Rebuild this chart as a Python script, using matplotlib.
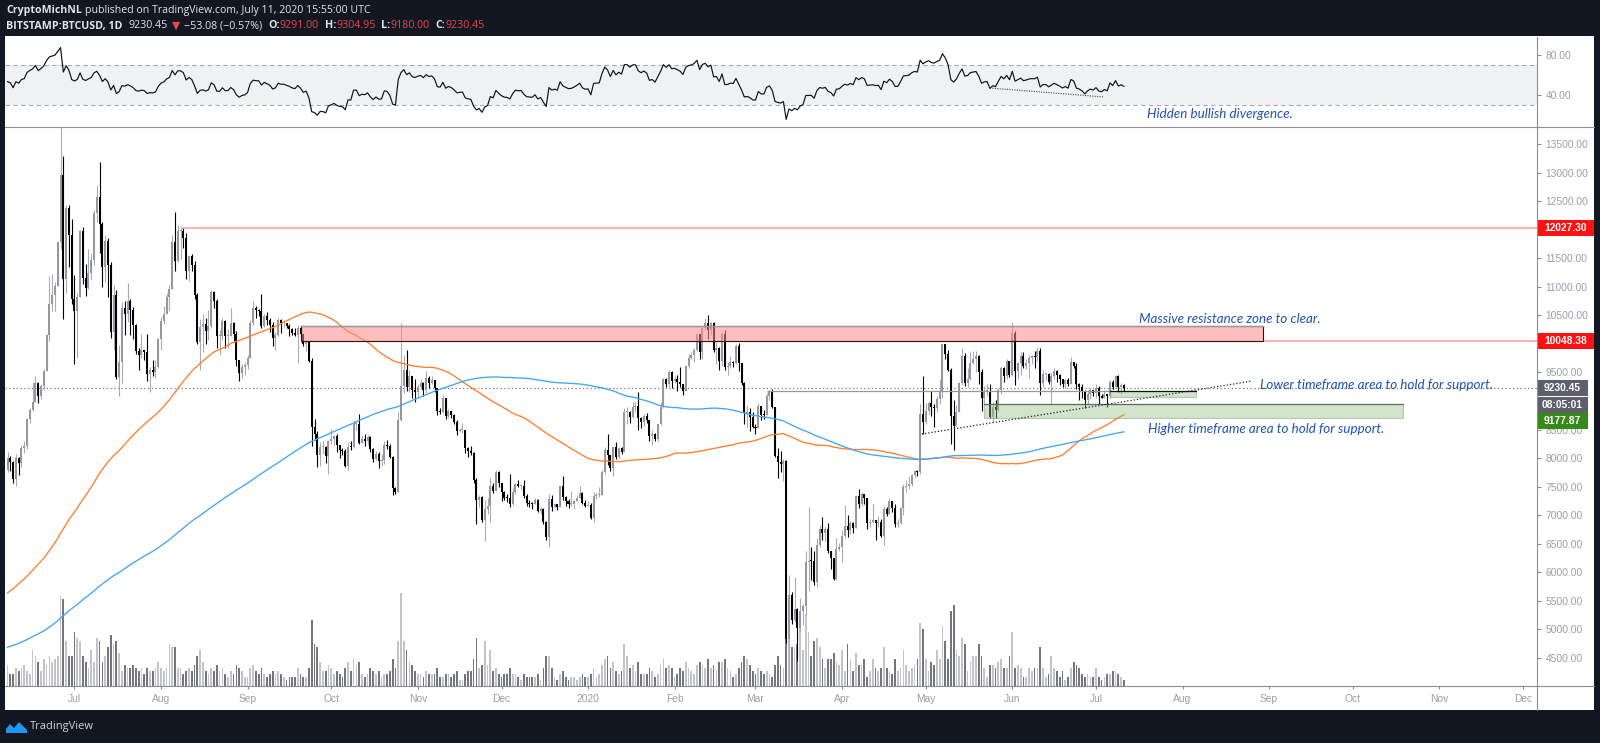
import numpy as np
import pandas as pd
import matplotlib
matplotlib.use("Agg")
import matplotlib.pyplot as plt
import matplotlib.dates as mdates
from matplotlib.patches import Rectangle, Polygon
from matplotlib.lines import Line2D
from matplotlib.transforms import blended_transform_factory

plt.rcParams['font.family'] = ['Liberation Sans', 'DejaVu Sans']
plt.rcParams['axes.unicode_minus'] = True

# ---- daily closes before the visible window (only for the 100/200 SMA and RSI warm-up), from 2018-11-19
pre_close = [
    4870, 4450, 4600, 4370, 4330, 3950, 4010, 3770, 3820, 4260, 4280, 4020,
    4210, 4140, 3840, 3960, 3770, 3510, 3420, 3440, 3590, 3480, 3400, 3520, 3290, 3220, 3200, 3250,
    3550, 3710, 3750, 4130, 3900, 4020, 3990, 4140, 3800, 3830, 3580, 3860, 3800, 3930, 3740,
    3840, 3940, 3840, 3880, 3850, 4040, 3990, 4000, 4010, 3630, 3630, 3590, 3480, 3660, 3590, 3630,
    3660, 3620, 3700, 3550, 3570, 3610, 3580, 3600, 3600, 3600, 3560, 3430, 3400, 3460, 3440,
    3460, 3490, 3410, 3410, 3430, 3400, 3380, 3650, 3640, 3670, 3600, 3620, 3610, 3590, 3610, 3630,
    3670, 3900, 3910, 3960, 3920, 3950, 4120, 3750, 3820, 3800, 3810, 3820,
    3830, 3840, 3810, 3720, 3860, 3870, 3880, 3860, 3930, 3920, 3870, 3890, 3880, 3890, 3920, 4020,
    3990, 3990, 4020, 4040, 3980, 3990, 4000, 3990, 3920, 3940, 4090, 4080, 4110, 4110, 4110,
    4140, 4860, 4970, 4900, 5040, 5060, 5200, 5290, 5170, 5330, 5060, 5070, 5070, 5140, 5030, 5200,
    5240, 5280, 5270, 5310, 5280, 5400, 5530, 5430, 5180, 5250, 5270, 5260, 5210, 5320,
    5380, 5490, 5750, 5830, 5750, 5690, 5800, 5960, 6170, 6350, 7000, 6880, 7810, 7990, 8190, 7880,
    7350, 7260, 8190, 7980, 7980, 7630, 7880, 7990, 8050, 8670, 8810, 8720, 8660, 8270, 8550,
    8560, 8740, 8210, 7690, 7780, 7810,
]

# ---- visible window: BITSTAMP:BTCUSD daily, 2019-06-07 .. 2020-07-11
first_open = 7800
close = [
    # Jun 2019 (7-30)
    8000, 7930, 7630, 8010, 7920, 8170, 8220, 8690, 8850, 8990, 9320, 9080, 9270, 9530, 10150, 10700,
    10850, 11010, 11780, 12960, 11140, 12380, 11910, 10790,
    # Jul
    10580, 10830, 11980, 11150, 10980, 11240, 11470, 12290, 12570, 12100, 11350, 11800, 11380, 10200,
    10850, 9420, 9690, 10620, 10530, 10760, 10590, 10330, 9880, 9800, 9900, 9850, 9470, 9540, 9510, 9590, 10080,
    # Aug
    10400, 10520, 10820, 10970, 11790, 11460, 11980, 11980, 11850, 11280, 11540, 11390, 10860, 10040,
    10300, 10350, 10220, 10320, 10910, 10750, 10130, 10130, 10400, 10130, 10140, 10360, 10180, 9720, 9490, 9590, 9630,
    # Sep
    9760, 10370, 10620, 10590, 10580, 10320, 10490, 10410, 10330, 10100, 10160, 10410, 10360, 10360,
    10310, 10260, 10190, 10160, 10280, 10170, 9990, 10030, 9700, 8540, 8430, 8060, 8200, 8200, 8040, 8300,
    # Oct
    8340, 8390, 8230, 8150, 8130, 7860, 8200, 8190, 8590, 8590, 8270, 8330, 8300, 8370, 8160, 7990,
    8080, 7950, 7960, 8230, 8210, 8020, 7470, 7410, 8660, 9260, 9550, 9250, 9430, 9200, 9150,
    # Nov
    9250, 9310, 9200, 9410, 9320, 9360, 9220, 8820, 8800, 9050, 8730, 8820, 8760, 8640, 8470, 8490,
    8500, 8180, 8120, 8090, 7620, 7270, 7320, 6920, 7110, 7160, 7510, 7420, 7750, 7560,
    # Dec
    7410, 7310, 7300, 7200, 7400, 7540, 7510, 7520, 7340, 7220, 7200, 7190, 7260, 7070, 7110, 6880,
    6620, 7280, 7150, 7190, 7140, 7510, 7320, 7250, 7190, 7200, 7250, 7310, 7390, 7220, 7170,
    # Jan 2020
    7180, 6950, 7340, 7350, 7360, 7760, 8150, 8050, 7820, 8190, 8020, 8180, 8110, 8810, 8810, 8720,
    8900, 8910, 8700, 8630, 8730, 8660, 8390, 8430, 8330, 8590, 8900, 9390, 9290, 9500, 9350,
    # Feb
    9390, 9340, 9290, 9180, 9620, 9750, 9800, 9900, 10170, 9860, 10270, 10360, 10240, 10370, 9900,
    9930, 9700, 10180, 9600, 9610, 9690, 9670, 9970, 9660, 9310, 8790, 8810, 8720, 8540,
    # Mar
    8530, 8920, 8760, 8750, 9080, 9150, 8900, 8040, 7940, 7890, 7950, 4830, 5600, 5170, 5360, 5030,
    5330, 5410, 6180, 6200, 6190, 5830, 6480, 6760, 6690, 6760, 6370, 6250, 5880, 6410, 6440,
    # Apr
    6640, 6810, 6740, 6870, 6780, 7330, 7200, 7370, 7300, 6870, 6890, 6910, 6860, 6880, 6630, 7110,
    7030, 7250, 7130, 6850, 6860, 7130, 7490, 7510, 7540, 7700, 7780, 7760, 8780, 8630,
    # May
    8830, 8970, 8900, 8880, 9030, 9150, 9990, 9820, 9540, 8730, 8570, 8810, 9310, 9790, 9320, 9380,
    9670, 9730, 9780, 9510, 9060, 9170, 9180, 8720, 8900, 8840, 9200, 9570, 9430, 9700, 9450,
    # Jun
    10190, 9520, 9660, 9790, 9620, 9670, 9750, 9780, 9770, 9880, 9320, 9470, 9470, 9340, 9430, 9530,
    9460, 9390, 9300, 9360, 9290, 9680, 9620, 9290, 9250, 9160, 9010, 9120, 9190, 9140,
    # Jul (1-11)
    9230, 9090, 9060, 9130, 9080, 9340, 9250, 9430, 9240, 9284, 9230.45,
]
high = [
    8100, 8030, 7950, 8080, 8020, 8230, 8300, 8700, 8880, 9330, 9440, 9330, 9300, 9560, 10180, 11190,
    11230, 11090, 11780, 13800, 13290, 12440, 12430, 12180,
    11200, 10890, 12000, 12050, 11400, 11660, 11590, 12340, 12780, 13180, 12130, 11900, 11850, 11440,
    11040, 10940, 9980, 10740, 10750, 11060, 10790, 10650, 10340, 9920, 10170, 9900, 10180, 9600, 9710, 9720, 10110,
    10470, 10660, 10900, 11040, 11900, 12310, 12090, 12060, 12030, 11940, 11560, 11580, 11450, 10900,
    10440, 10520, 10460, 10590, 10950, 10920, 10790, 10250, 10450, 10420, 10260, 10630, 10390, 10230, 9720, 9640, 9680,
    9810, 10420, 10760, 10660, 10610, 10880, 10530, 10550, 10460, 10380, 10200, 10450, 10440, 10410,
    10370, 10340, 10270, 10280, 10330, 10240, 10180, 10060, 10030, 9750, 8680, 8480, 8280, 8300, 8220, 8320,
    8510, 8400, 8420, 8230, 8170, 8160, 8290, 8300, 8660, 8630, 8770, 8410, 8420, 8400, 8390, 8170,
    8120, 8100, 8080, 8300, 8320, 8250, 8040, 7500, 8800, 10370, 9800, 9900, 9550, 9430, 9390,
    9290, 9390, 9340, 9520, 9440, 9440, 9370, 9230, 8880, 9100, 9060, 8860, 8830, 8780, 8670, 8530,
    8610, 8500, 8190, 8210, 8110, 7660, 7350, 7340, 7260, 7310, 7660, 7560, 7800, 7780,
    7560, 7420, 7370, 7730, 7490, 7560, 7620, 7550, 7610, 7380, 7260, 7230, 7300, 7280, 7140, 7120,
    6900, 7370, 7360, 7220, 7190, 7520, 7680, 7340, 7280, 7430, 7270, 7360, 7520, 7410, 7270,
    7250, 7210, 7410, 7390, 7490, 7790, 8200, 8420, 8060, 8200, 8280, 8190, 8190, 8880, 8900, 8830,
    8980, 8990, 9160, 8720, 8770, 8790, 8670, 8490, 8440, 8600, 8980, 9400, 9410, 9550, 9520,
    9440, 9460, 9590, 9300, 9630, 9830, 9850, 9930, 10170, 10180, 10300, 10450, 10500, 10390, 10380,
    10040, 9950, 10200, 10250, 9680, 9780, 9700, 9990, 10010, 9670, 9330, 8930, 8880, 8800,
    8600, 8960, 8920, 8840, 9140, 9190, 9210, 8900, 8170, 8130, 7980, 7960, 5950, 5650, 5920, 5370,
    5550, 5440, 6380, 7150, 6440, 6380, 6600, 6830, 6970, 6790, 6860, 6270, 6250, 6600, 6520,
    6740, 7180, 7000, 6900, 6880, 7360, 7460, 7400, 7380, 7310, 6940, 7200, 6910, 6990, 6930, 7170,
    7140, 7300, 7250, 7200, 6940, 7150, 7550, 7610, 7690, 7720, 7800, 7790, 8950, 9440,
    8960, 9000, 9180, 8950, 9080, 9380, 10000, 9990, 9900, 9570, 9020, 8930, 9330, 9930, 9840, 9580,
    9850, 9880, 9880, 9810, 9560, 9260, 9300, 9300, 8980, 9010, 9220, 9610, 9600, 9730, 9700,
    10390, 10230, 9690, 9850, 9860, 9730, 9800, 9800, 9880, 9950, 9930, 9550, 9490, 9490, 9490, 9570,
    9550, 9480, 9390, 9380, 9410, 9770, 9680, 9660, 9320, 9300, 9190, 9190, 9220, 9200,
    9300, 9270, 9120, 9200, 9130, 9370, 9360, 9460, 9450, 9310, 9304.95,
]
low = [
    7760, 7780, 7560, 7510, 7700, 7840, 8090, 8160, 8620, 8830, 8990, 8970, 9030, 9190, 9520, 10050,
    10580, 10570, 11010, 11670, 10440, 10890, 11350, 10700,
    9650, 9750, 10830, 11050, 10840, 10960, 11120, 11380, 12140, 11600, 11000, 11090, 10830, 10100,
    9900, 9380, 9080, 9310, 10160, 10390, 10150, 10080, 9830, 9540, 9760, 9710, 9350, 9160, 9440, 9400, 9570,
    9900, 10350, 10520, 10580, 10980, 11270, 11430, 11480, 11680, 11140, 11110, 11270, 10780, 9990,
    9550, 9860, 9990, 10070, 10280, 10630, 9930, 9800, 10060, 9930, 9930, 10130, 10050, 9610, 9350, 9410, 9450,
    9560, 9760, 10330, 10460, 10480, 10270, 10300, 10330, 10200, 9960, 9900, 10130, 10190, 10290,
    10270, 10140, 10150, 10140, 9660, 10120, 9960, 9880, 9680, 8220, 8310, 7850, 7860, 8080, 7920, 7720,
    8250, 8230, 8100, 8000, 8060, 7840, 7800, 8140, 8170, 8500, 8250, 8270, 8220, 8230, 8100, 7930,
    7970, 7820, 7870, 7890, 8160, 8000, 7360, 7370, 7400, 8650, 9140, 9180, 9150, 9050, 8990,
    9050, 9210, 9080, 9140, 9220, 9300, 9160, 8750, 8770, 8790, 8680, 8700, 8700, 8600, 8410, 8450,
    8440, 8090, 8020, 8050, 7560, 6850, 7140, 6890, 6550, 7030, 6880, 7390, 7430, 7500,
    7250, 7260, 7240, 7150, 7180, 7380, 7500, 7450, 7300, 7160, 7140, 7110, 7190, 7050, 7030, 6840,
    6560, 6440, 7070, 7120, 7100, 7140, 7270, 7160, 7130, 7170, 7110, 7260, 7300, 7190, 7140,
    7170, 6930, 6880, 7280, 7320, 7350, 7730, 7880, 7770, 7680, 7990, 7980, 8070, 8100, 8600, 8620,
    8710, 8800, 8500, 8520, 8570, 8620, 8300, 8230, 8300, 8300, 8580, 8870, 9240, 9230, 9230,
    9310, 9170, 9240, 9110, 9170, 9580, 9730, 9690, 9880, 9740, 9740, 10250, 10090, 10160, 9860,
    9650, 9550, 9620, 9540, 9460, 9570, 9590, 9650, 9530, 9280, 8600, 8550, 8470, 8530,
    8430, 8530, 8660, 8680, 8750, 9020, 8880, 8020, 7650, 7750, 7600, 4770, 3850, 5090, 5130, 4450,
    4960, 5080, 5260, 5670, 5870, 5780, 5740, 6450, 6560, 6540, 6340, 6060, 5860, 5870, 6370,
    6180, 6600, 6620, 6680, 6690, 6780, 7120, 7160, 7200, 6760, 6790, 6860, 6560, 6800, 6620, 6480,
    6990, 7020, 7060, 6790, 6790, 6850, 7010, 7400, 7460, 7510, 7650, 7680, 7730, 8430,
    8600, 8770, 8730, 8540, 8800, 8950, 9050, 9740, 9530, 8250, 8140, 8570, 8800, 9280, 9260, 9240,
    9360, 9640, 9500, 9300, 8820, 8950, 9080, 8700, 8640, 8700, 8830, 9130, 9330, 9380, 9420,
    9430, 9280, 9380, 9450, 9580, 9560, 9400, 9640, 9570, 9700, 9110, 9240, 9360, 9300, 8940, 9380,
    9330, 9280, 9250, 9230, 9270, 9290, 9580, 9210, 9020, 9050, 8880, 8950, 9030, 9080,
    9050, 8940, 9050, 9050, 8900, 9060, 9210, 9230, 9160, 9120, 9180,
]
# volume in thousand BTC
volume = [
    7, 4, 4, 6, 5, 6, 7, 5, 4, 12, 10, 8, 5, 9, 7, 10, 8, 9, 10, 30, 29, 15, 10, 10,
    18, 16, 15, 10, 8, 6, 12, 8, 16, 15, 8, 10, 13, 17, 14, 15, 11, 5, 7, 6, 6, 7, 6, 5, 6, 4, 6, 5, 5, 6, 8,
    6, 5, 6, 14, 13, 13, 6, 6, 4, 5, 6, 5, 7, 10, 12, 8, 5, 4, 6, 5, 7, 5, 6, 4, 3, 5, 4, 7, 6, 5, 3,
    3, 6, 7, 5, 4, 6, 4, 3, 4, 5, 4, 5, 4, 3, 2, 3, 3, 3, 6, 4, 3, 3, 6, 22, 14, 13, 8, 5, 5, 7,
    6, 4, 5, 4, 3, 6, 8, 5, 9, 7, 8, 4, 3, 4, 6, 5, 4, 5, 3, 4, 4, 5, 9, 6, 15, 31, 15, 12, 8, 7, 5,
    4, 4, 3, 5, 4, 4, 4, 6, 3, 3, 4, 4, 3, 4, 5, 2, 2, 4, 5, 5, 9, 16, 6, 7, 15, 7, 12, 5, 6, 4,
    3, 4, 4, 6, 4, 4, 3, 2, 4, 3, 3, 3, 3, 4, 2, 6, 10, 10, 6, 3, 2, 4, 5, 3, 2, 3, 3, 2, 3, 4, 3,
    3, 4, 6, 3, 4, 7, 9, 10, 6, 8, 5, 4, 5, 14, 10, 6, 7, 5, 8, 4, 4, 4, 6, 5, 3, 4, 7, 9, 6, 7, 6,
    3, 4, 6, 5, 8, 6, 5, 4, 7, 8, 7, 6, 9, 6, 7, 5, 8, 8, 9, 6, 5, 3, 4, 6, 8, 10, 9, 7, 5,
    4, 6, 5, 4, 5, 4, 3, 7, 10, 7, 6, 24, 26, 13, 13, 14, 20, 12, 24, 18, 10, 15, 16, 13, 9, 6, 9, 9, 11, 8, 7,
    12, 5, 14, 9, 5, 11, 7, 7, 9, 3, 5, 9, 6, 5, 6, 13, 6, 5, 4, 9, 5, 6, 12, 7, 5, 6, 7, 9, 21, 19,
    9, 5, 8, 7, 12, 9, 20, 15, 9, 25, 27, 12, 10, 16, 14, 5, 8, 10, 10, 14, 10, 6, 3, 7, 7, 6, 8, 9, 6, 6, 10,
    18, 6, 7, 6, 3, 3, 6, 5, 6, 6, 13, 6, 3, 4, 10, 6, 5, 3, 5, 2, 3, 6, 8, 7, 6, 4, 3, 4, 3, 3,
    6, 3, 2, 3, 4, 4, 5, 5, 4, 3, 2,
]

month_starts = ['2019-07-01', '2019-08-01', '2019-09-01', '2019-10-01', '2019-11-01', '2019-12-01',
                '2020-01-01', '2020-02-01', '2020-03-01', '2020-04-01', '2020-05-01', '2020-06-01',
                '2020-07-01', '2020-08-01', '2020-09-01', '2020-10-01', '2020-11-01', '2020-12-01']
month_labels = ['Jul', 'Aug', 'Sep', 'Oct', 'Nov', 'Dec', '2020', 'Feb', 'Mar', 'Apr', 'May', 'Jun',
                'Jul', 'Aug', 'Sep', 'Oct', 'Nov', 'Dec']
price_ticks = [13500, 13000, 12500, 11500, 11000, 10500, 9500, 8500, 8000, 7500, 7000,
               6500, 6000, 5500, 5000, 4500]
rsi_ticks = [80, 40]

# ---------------------------------------------------------------- layout
W, H = 1600, 743
BG = '#131722'
AXC = '#8a8d95'
LBL = '#9b9ea6'
fig = plt.figure(figsize=(16, 7.43), dpi=100, facecolor=BG)


def fx(px):
    return px / W


def fy(py):
    return 1 - py / H


fig.add_artist(Rectangle((fx(5), fy(710)), (1594 - 5) / W, (710 - 36) / H,
                         transform=fig.transFigure, facecolor='white', edgecolor='none', zorder=-10))

ax_rsi = fig.add_axes([fx(5), fy(127), 1532 / W, 89 / H])
ax_vol = fig.add_axes([fx(5), fy(686), 1532 / W, 559 / H])
ax = fig.add_axes([fx(5), fy(686), 1532 / W, 559 / H])
ax_vol.set_zorder(1)
ax.set_zorder(2)
ax_rsi.set_zorder(2)
for a in (ax, ax_vol, ax_rsi):
    a.patch.set_visible(False)
    for s in a.spines.values():
        s.set_visible(False)

# ---------------------------------------------------------------- data prep
dates = pd.date_range('2019-06-07', periods=len(close), freq='D')
x = mdates.date2num(dates)
c = np.array(close, float)
o = np.concatenate([[first_open], c[:-1]])
h = np.maximum(np.array(high, float), np.maximum(o, c))
l = np.minimum(np.array(low, float), np.minimum(o, c))
up = c >= o

full = pd.Series(np.concatenate([np.array(pre_close, float), c]))
n = len(c)
ma100 = full.rolling(100).mean().values[-n:]
ma200 = full.rolling(200).mean().values[-n:]
delta = full.diff()
gain = delta.clip(lower=0).ewm(alpha=1 / 14, adjust=False).mean()
loss = (-delta.clip(upper=0)).ewm(alpha=1 / 14, adjust=False).mean()
rsi = (100 - 100 / (1 + gain / loss)).values[-n:]

PX_DAY = 2.791
jul20 = mdates.date2num(pd.Timestamp('2020-07-01'))
xlim = (jul20 - 1091 / PX_DAY, jul20 + 441 / PX_DAY)
ylim = (4010, 13798)
px_usd = 559 / (ylim[1] - ylim[0])


def d(s):
    return mdates.date2num(pd.Timestamp(s))


# ---------------------------------------------------------------- volume
ax_vol.bar(x, volume, width=0.62, color=np.where(up, '#c2c4c9', '#74767c'), linewidth=0)
ax_vol.set_xlim(xlim)
ax_vol.set_ylim(0, 559 / 3)
ax_vol.axis('off')

# ---------------------------------------------------------------- candles
ax.vlines(x, l, h, colors=np.where(up, '#a9acb4', '#000000'), lw=0.8, zorder=3)
body_bottom = np.minimum(o, c)
body_h = np.maximum(np.abs(c - o), 18)
ax.bar(x, body_h, bottom=body_bottom, width=0.72, color=np.where(up, '#9598a1', '#000000'),
       linewidth=0, zorder=4)

ax.plot(x, ma100, color='#ff7f2a', lw=0.95, zorder=5)
ax.plot(x, ma200, color='#42a5f5', lw=0.95, zorder=5)

# last price dotted line
ax.axhline(9230.45, color='#787b86', lw=0.9, ls=(0, (1, 2)), zorder=2)

# ---------------------------------------------------------------- drawings
# resistance zone
z0, z1 = d('2019-09-20'), d('2020-08-29 20:00')
ax.add_patch(Rectangle((z0, 10048.38), z1 - z0, 10320 - 10048.38, facecolor='#ff8a8a',
                       alpha=0.55, edgecolor='none', zorder=6))
ax.plot([z0, z1, z1, z0, z0], [10320, 10320, 10048.38, 10048.38, 10320], color='#3d0a0a', lw=0.8, zorder=7)
ax.plot([z0, z1], [10320, 10320], color='#9a9a9a', lw=1.0, zorder=7)

# horizontal levels
ax.hlines(12027.30, d('2019-08-08'), xlim[1], color='#f7a5a5', lw=1.2, zorder=6)
ax.hlines(10048.38, z1, xlim[1], color='#f7a5a5', lw=1.2, zorder=6)

# lower timeframe support
ax.hlines(9177.87, d('2020-03-05'), d('2020-07-06'), color='#8aa386', lw=0.9, zorder=6)
s0, s1 = d('2020-07-06'), d('2020-08-05 18:00')
ax.add_patch(Rectangle((s0, 9070), s1 - s0, 9177.87 - 9070, facecolor='#8fbf7f', alpha=0.42,
                       edgecolor='#7d8a7a', lw=0.8, zorder=6))
ax.plot([s0, s1], [9177.87, 9177.87], color='#111111', lw=0.9, zorder=7)

# higher timeframe support
g0, g1 = d('2020-05-22'), d('2020-10-19')
ax.add_patch(Rectangle((g0, 8700), g1 - g0, 8950 - 8700, facecolor='#8fbf7f', alpha=0.42,
                       edgecolor='#7d8a7a', lw=0.8, zorder=6))
ax.plot([g0, g1], [8950, 8950], color='#5f6b5c', lw=0.9, zorder=7)

# rising dotted trendline
ax.plot([d('2020-04-29 14:00'), d('2020-08-25 22:00')], [8422, 9350], color='#222222',
        lw=0.9, ls=(0, (1, 1.6)), zorder=7)

ANNOT = dict(color='#2350b5', fontsize=9.6, style='italic', family=['Lato', 'DejaVu Sans'],
             ha='left', va='center', zorder=8)
ax.text(d('2020-07-16 10:00'), 10440, 'Massive resistance zone to clear.', **ANNOT)
ax.text(d('2020-08-28 20:00'), 9280, 'Lower timeframe area to hold for support.', **ANNOT)
ax.text(d('2020-07-19 14:00'), 8510, 'Higher timeframe area to hold for support.', **ANNOT)

ax.set_xlim(xlim)
ax.set_ylim(ylim)

# axes ticks
ax.set_xticks([d(m) for m in month_starts])
ax.set_xticklabels(month_labels)
ax.yaxis.tick_right()
ax.set_yticks(price_ticks)
ax.set_yticklabels([f'{v:.2f}' for v in price_ticks])
ax.tick_params(axis='x', direction='out', length=2.5, width=0.8, color=AXC, labelcolor=LBL,
               labelsize=7.4, pad=3.5)
ax.tick_params(axis='y', direction='out', length=3, width=0.8, color=AXC, labelcolor=LBL,
               labelsize=7.4, pad=3)

# right-hand price tags
tr = blended_transform_factory(ax.transAxes, ax.transData)


def tag(center, text, face, w_px):
    hh = 16 / px_usd
    ax.add_patch(Rectangle((1.0, center - hh / 2), w_px / 1532, hh, transform=tr,
                           facecolor=face, edgecolor='none', clip_on=False, zorder=9))
    ax.text(1.0 + w_px / 2 / 1532, center, text, transform=tr, color='white', fontsize=7.4,
            fontweight='bold', ha='center', va='center', clip_on=False, zorder=10)


tag(12027.30, '12027.30', '#ff1111', 57)
tag(10048.38, '10048.38', '#ff1111', 57)
tag(9230.45, '9230.45', '#5d606b', 51)
tag(8930, '08:05:01', '#5d606b', 51)
tag(8650, '9177.87', '#358a1a', 51)

# ---------------------------------------------------------------- RSI panel
ax_rsi.axhspan(30, 70, color='#f0f1f4', lw=0, zorder=0)
for lv in (70, 30):
    ax_rsi.axhline(lv, color='#a7aab2', lw=0.8, ls=(0, (4, 3)), zorder=1)
ax_rsi.plot(x, rsi, color='#111111', lw=0.85, zorder=3)
ax_rsi.plot([d('2020-05-24'), d('2020-07-04')], [47, 38], color='#444444', lw=0.8,
            ls=(0, (1, 1.2)), zorder=4)
ax_rsi.text(d('2020-07-19 08:00'), 21, 'Hidden bullish divergence.', **ANNOT)
ax_rsi.set_xlim(xlim)
ax_rsi.set_ylim(8, 97)
ax_rsi.set_xticks([])
ax_rsi.yaxis.tick_right()
ax_rsi.set_yticks(rsi_ticks)
ax_rsi.set_yticklabels([f'{v:.2f}' for v in rsi_ticks])
ax_rsi.tick_params(axis='y', direction='out', length=3, width=0.8, color=AXC, labelcolor=LBL,
                   labelsize=7.4, pad=3)

# frame lines
for xs, ys in [((5, 1594), (127, 127)), ((5, 1594), (686, 686)), ((1537, 1537), (37, 710))]:
    fig.add_artist(Line2D([fx(v) for v in xs], [fy(v) for v in ys], transform=fig.transFigure,
                          color=AXC, lw=0.8, zorder=20))

# ---------------------------------------------------------------- header
HEAD = ['Open Sans', 'DejaVu Sans']
WHITE = '#e3e5eb'
RED = '#e5474b'


def segments(x_px, y_px, parts, size):
    r = fig.canvas.get_renderer()
    xx = x_px
    for text, color, bold, gap in parts:
        t = fig.text(fx(xx), fy(y_px), text, color=color, fontsize=size,
                     fontweight='bold' if bold else 'normal', family=HEAD, ha='left', va='center')
        xx = t.get_window_extent(renderer=r).x1 + gap


segments(6, 11, [('CryptoMichNL', WHITE, True, 3),
                 ('published on TradingView.com, July 11, 2020 15:55:00 UTC', WHITE, False, 0)], 7.6)
segments(6, 26, [('BITSTAMP:BTCUSD, 1D', WHITE, True, 6),
                 ('9230.45', WHITE, False, 4),
                 ('\u25bc', RED, False, 4),
                 ('\u221253.08 (\u22120.57%)', WHITE, False, 6),
                 ('O:', WHITE, True, 0), ('9291.00', RED, False, 6),
                 ('H:', WHITE, True, 0), ('9304.95', RED, False, 6),
                 ('L:', WHITE, True, 0), ('9180.00', RED, False, 6),
                 ('C:', WHITE, True, 0), ('9230.45', RED, False, 0)], 7.7)

# TradingView logo
logo = [(6, 733), (6, 729), (10, 724), (14, 728), (19, 722), (24, 727), (27, 730), (27, 733)]
fig.add_artist(Polygon([(fx(a), fy(b)) for a, b in logo], closed=True, transform=fig.transFigure,
                       facecolor='#2196f3', edgecolor='none'))
fig.text(fx(30), fy(727), 'TradingView', color='#d1d4dc', fontsize=8, family=HEAD,
         ha='left', va='center')

fig.savefig('out.png', dpi=100, facecolor=BG)
